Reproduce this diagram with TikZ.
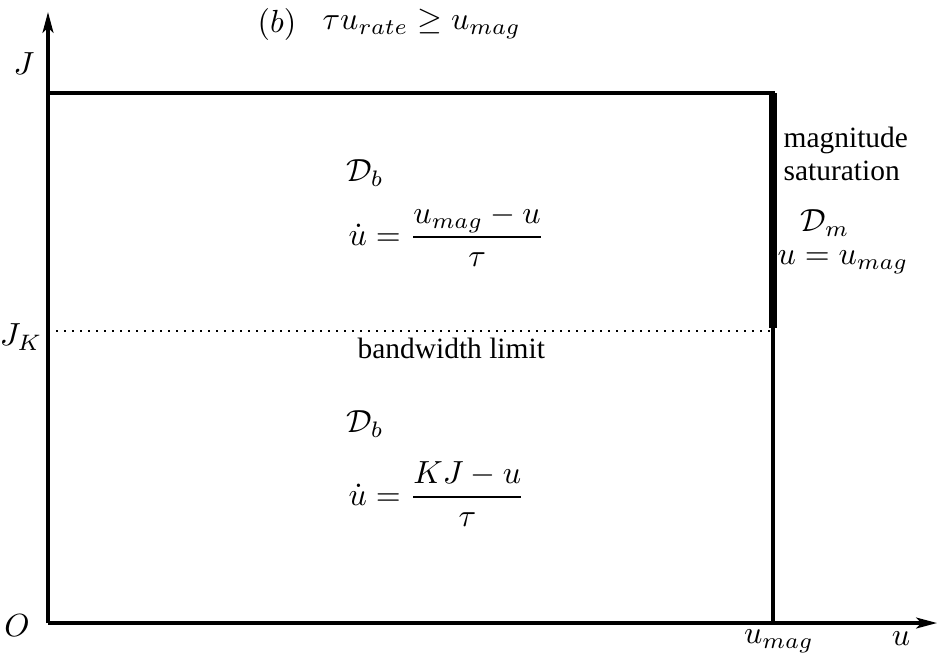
\documentclass[tikz,border=0pt]{standalone}
\usepackage{fontspec}
\setmainfont{Liberation Serif}
\usetikzlibrary{arrows.meta, positioning}

\begin{document}
\begin{tikzpicture}[
			x=0.3125pt, y=-0.3125pt,
			axis/.style={line width=1pt, -{Stealth[open, length=6.5pt, width=3.4pt, inset=1.6pt]}},
			bound/.style={line width=1pt},
			sat/.style={line width=2.5pt},
			lim/.style={line width=0.8pt, dash pattern=on 0.6pt off 1.9pt},
			txt/.style={font=\rmfamily\fontsize{9.2}{10.5}\selectfont, inner sep=0pt},
			lbl/.style={inner sep=0pt}
			]
			\useasboundingbox (0,0) rectangle (938,657);
			\coordinate (o) at (48,623);
			\coordinate (jtip) at (48,12);
			\coordinate (utip) at (937,623);
			\coordinate (jmax) at (48,93);
			\coordinate (corner) at (773,93);
			\coordinate (umag) at (773,623);
			\coordinate (jk) at (48,331);
			\coordinate (jkr) at (773,331);
			\coordinate (satend) at (773,328);
			\node[lbl] (case) at (277,24) {$(b)$};
			\node[lbl, anchor=west] (cond) at (322,24) {$\tau u_{rate}\geq u_{mag}$};
			\node[lbl] (jlab) at (24,64) {$J$};
			\node[lbl] (jklab) at (21,337) {$J_K$};
			\node[lbl] (olab) at (17,626) {$O$};
			\node[lbl] (umaglab) at (779,641) {$u_{mag}$};
			\node[lbl] (ulab) at (901,639) {$u$};
			\node[lbl] (dbtop) at (365,173) {$\mathcal{D}_b$};
			\node[lbl, anchor=base west] (eqtop) at (348,245) {$\displaystyle\dot u=\frac{u_{mag}-u}{\tau}$};
			\node[txt, anchor=base west] (bw) at (357,358) {bandwidth limit};
			\node[lbl] (dbbot) at (365,424) {$\mathcal{D}_b$};
			\node[lbl, anchor=base west] (eqbot) at (348,505) {$\displaystyle\dot u=\frac{KJ-u}{\tau}$};
			\node[txt, anchor=base west] (mag) at (783,147) {magnitude};
			\node[txt, anchor=base west] (satur) at (783,180) {saturation};
			\node[lbl] (dm) at (825,223) {$\mathcal{D}_m$};
			\node[lbl] (eqm) at (843,262) {$u=u_{mag}$};
			\draw[axis] (o) -- (jtip);
			\draw[axis] (o) -- (utip);
			\draw[bound] (jmax) -- (corner) -- (umag);
			\draw[sat] (corner) -- (satend);
			\draw[lim] (jk) -- (jkr);
		\end{tikzpicture}
\end{document}
